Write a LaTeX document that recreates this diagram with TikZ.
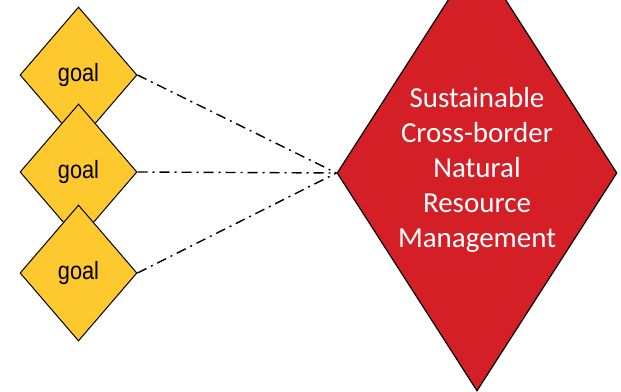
\documentclass[tikz,border=0pt]{standalone}
\usepackage{fontspec}
\setmainfont{Liberation Sans}
\newfontfamily\goalfont[FakeStretch=0.87]{Liberation Sans}
\newfontfamily\aimfont{Carlito}
\usetikzlibrary{shapes.geometric}
\definecolor{goalyellow}{HTML}{FEC82F}
\definecolor{aimred}{HTML}{D51F26}

\begin{document}
\begin{tikzpicture}[x=0.5pt, y=-0.5pt,
  goal/.style={diamond, draw, line width=0.5pt, fill=goalyellow, inner sep=0pt, minimum width=58.5pt, minimum height=68pt, font=\goalfont\fontsize{12.5}{14}\selectfont},
  aim/.style={diamond, draw, line width=0.6pt, fill=aimred, text=white, inner sep=0pt, shape aspect=0.64, minimum width=140pt, minimum height=218pt, align=center, text depth=6pt, font=\aimfont\fontsize{14.5}{17.5}\selectfont},
  link/.style={dash pattern=on 5pt off 2.5pt on 1pt off 2.5pt, line width=0.7pt}]
  \useasboundingbox (0,0) rectangle (621,391);
  \node (g1) [goal] at (78.5,75) {goal};
  \node (g2) [goal] at (78.5,172) {goal};
  \node (g3) [goal] at (78.5,273) {goal};
  \node (m) [aim] at (477,173) {Sustainable\\ Cross-border\\ Natural\\ Resource\\ Management};
  \path[link]
  (g1.east) edge (m.west)
  (g2.east) edge (m.west)
  (g3.east) edge (m.west)
  ;
\end{tikzpicture}
\end{document}
